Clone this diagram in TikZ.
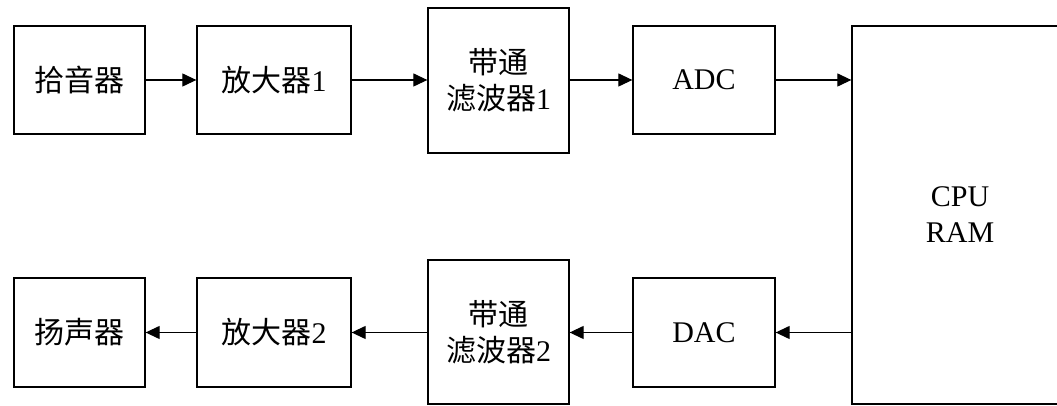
\documentclass[tikz,border=0pt]{standalone}
\usepackage{fontspec}
\setmainfont{Liberation Serif}
\newfontfamily\cjk{Noto Sans CJK SC}
\usetikzlibrary{arrows.meta}
\tikzset{
  blk/.style={draw, line width=1.3pt, inner sep=0pt, align=center,
    font=\fontsize{30}{36}\selectfont},
  arr/.style={line width=1.2pt, -{Triangle[length=14pt,width=13pt]}}
}
\begin{document}
\begin{tikzpicture}[x=1pt,y=1pt]
\useasboundingbox (0,0) rectangle (1057,406);
\begin{scope}
\clip (0,0) rectangle (1057,406);
\node[blk, minimum width=131pt, minimum height=108pt] (pick) at (79.5,326) {{\cjk 拾音器}};
\node[blk, minimum width=154pt, minimum height=108pt] (amp1) at (274,326) {{\cjk 放大器}1};
\node[blk, minimum width=141pt, minimum height=145pt] (bp1) at (498.5,325.5) {{\cjk 带通}\\{\cjk 滤波器}1};
\node[blk, minimum width=142pt, minimum height=108pt] (adc) at (704,326) {ADC};
\node[blk, minimum width=216pt, minimum height=378pt] (cpu) at (960,191) {CPU\\RAM};
\node[blk, minimum width=131pt, minimum height=109pt] (spk) at (79.5,73.5) {{\cjk 扬声器}};
\node[blk, minimum width=154pt, minimum height=109pt] (amp2) at (274,73.5) {{\cjk 放大器}2};
\node[blk, minimum width=141pt, minimum height=144pt] (bp2) at (498.5,74) {{\cjk 带通}\\{\cjk 滤波器}2};
\node[blk, minimum width=142pt, minimum height=109pt] (dac) at (704,73.5) {DAC};
\end{scope}
\draw[arr] (pick) -- (amp1);
\draw[arr] (amp1) -- (bp1.west |- amp1);
\draw[arr] (bp1.east |- adc) -- (adc);
\draw[arr] (adc) -- (adc -| cpu.west);
\draw[arr] (cpu.west |- dac) -- (dac);
\draw[arr] (dac) -- (bp2.east |- dac);
\draw[arr] (bp2.west |- amp2) -- (amp2);
\draw[arr] (amp2) -- (spk);
\end{tikzpicture}
\end{document}
